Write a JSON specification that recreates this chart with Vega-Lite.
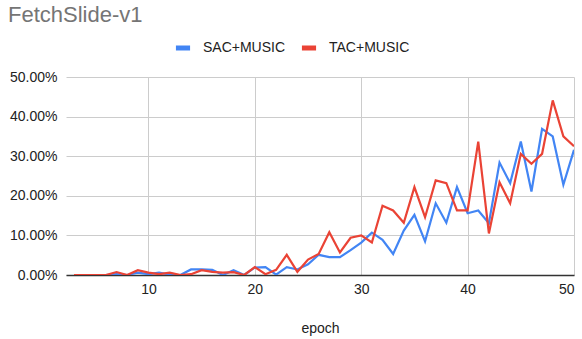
{
  "$schema": "https://vega.github.io/schema/vega-lite/v6.json",
  "width": 508,
  "height": 198,
  "autosize": {"type": "none"},
  "padding": {"left": 66, "top": 77, "right": 8, "bottom": 64},
  "background": "white",
  "title": {"text": "FetchSlide-v1", "anchor": "start", "frame": "group", "dx": -58, "font": "Liberation Sans", "fontSize": 22, "fontWeight": "normal", "color": "#757575", "offset": 11},
  "config": {"view": {"stroke": null}, "font": "Liberation Sans"},
  "data": {"values": [
    {"epoch": 3, "series": "SAC+MUSIC", "value": 0.0},
    {"epoch": 4, "series": "SAC+MUSIC", "value": 0.0},
    {"epoch": 5, "series": "SAC+MUSIC", "value": 0.0},
    {"epoch": 6, "series": "SAC+MUSIC", "value": 0.0},
    {"epoch": 7, "series": "SAC+MUSIC", "value": 0.002},
    {"epoch": 8, "series": "SAC+MUSIC", "value": 0.0},
    {"epoch": 9, "series": "SAC+MUSIC", "value": 0.006},
    {"epoch": 10, "series": "SAC+MUSIC", "value": 0.002},
    {"epoch": 11, "series": "SAC+MUSIC", "value": 0.006},
    {"epoch": 12, "series": "SAC+MUSIC", "value": 0.001},
    {"epoch": 13, "series": "SAC+MUSIC", "value": 0.0},
    {"epoch": 14, "series": "SAC+MUSIC", "value": 0.014},
    {"epoch": 15, "series": "SAC+MUSIC", "value": 0.014},
    {"epoch": 16, "series": "SAC+MUSIC", "value": 0.013},
    {"epoch": 17, "series": "SAC+MUSIC", "value": 0.0},
    {"epoch": 18, "series": "SAC+MUSIC", "value": 0.012},
    {"epoch": 19, "series": "SAC+MUSIC", "value": 0.0},
    {"epoch": 20, "series": "SAC+MUSIC", "value": 0.019},
    {"epoch": 21, "series": "SAC+MUSIC", "value": 0.02},
    {"epoch": 22, "series": "SAC+MUSIC", "value": 0.001},
    {"epoch": 23, "series": "SAC+MUSIC", "value": 0.02},
    {"epoch": 24, "series": "SAC+MUSIC", "value": 0.014},
    {"epoch": 25, "series": "SAC+MUSIC", "value": 0.027},
    {"epoch": 26, "series": "SAC+MUSIC", "value": 0.051},
    {"epoch": 27, "series": "SAC+MUSIC", "value": 0.045},
    {"epoch": 28, "series": "SAC+MUSIC", "value": 0.045},
    {"epoch": 29, "series": "SAC+MUSIC", "value": 0.063},
    {"epoch": 30, "series": "SAC+MUSIC", "value": 0.082},
    {"epoch": 31, "series": "SAC+MUSIC", "value": 0.107},
    {"epoch": 32, "series": "SAC+MUSIC", "value": 0.089},
    {"epoch": 33, "series": "SAC+MUSIC", "value": 0.053},
    {"epoch": 34, "series": "SAC+MUSIC", "value": 0.112},
    {"epoch": 35, "series": "SAC+MUSIC", "value": 0.152},
    {"epoch": 36, "series": "SAC+MUSIC", "value": 0.085},
    {"epoch": 37, "series": "SAC+MUSIC", "value": 0.181},
    {"epoch": 38, "series": "SAC+MUSIC", "value": 0.132},
    {"epoch": 39, "series": "SAC+MUSIC", "value": 0.222},
    {"epoch": 40, "series": "SAC+MUSIC", "value": 0.156},
    {"epoch": 41, "series": "SAC+MUSIC", "value": 0.163},
    {"epoch": 42, "series": "SAC+MUSIC", "value": 0.131},
    {"epoch": 43, "series": "SAC+MUSIC", "value": 0.284},
    {"epoch": 44, "series": "SAC+MUSIC", "value": 0.232},
    {"epoch": 45, "series": "SAC+MUSIC", "value": 0.337},
    {"epoch": 46, "series": "SAC+MUSIC", "value": 0.211},
    {"epoch": 47, "series": "SAC+MUSIC", "value": 0.369},
    {"epoch": 48, "series": "SAC+MUSIC", "value": 0.35},
    {"epoch": 49, "series": "SAC+MUSIC", "value": 0.228},
    {"epoch": 50, "series": "SAC+MUSIC", "value": 0.316},
    {"epoch": 3, "series": "TAC+MUSIC", "value": 0.0},
    {"epoch": 4, "series": "TAC+MUSIC", "value": 0.0},
    {"epoch": 5, "series": "TAC+MUSIC", "value": 0.0},
    {"epoch": 6, "series": "TAC+MUSIC", "value": 0.0},
    {"epoch": 7, "series": "TAC+MUSIC", "value": 0.0075},
    {"epoch": 8, "series": "TAC+MUSIC", "value": 0.0},
    {"epoch": 9, "series": "TAC+MUSIC", "value": 0.012},
    {"epoch": 10, "series": "TAC+MUSIC", "value": 0.006},
    {"epoch": 11, "series": "TAC+MUSIC", "value": 0.002},
    {"epoch": 12, "series": "TAC+MUSIC", "value": 0.006},
    {"epoch": 13, "series": "TAC+MUSIC", "value": 0.0},
    {"epoch": 14, "series": "TAC+MUSIC", "value": 0.002},
    {"epoch": 15, "series": "TAC+MUSIC", "value": 0.012},
    {"epoch": 16, "series": "TAC+MUSIC", "value": 0.008},
    {"epoch": 17, "series": "TAC+MUSIC", "value": 0.006},
    {"epoch": 18, "series": "TAC+MUSIC", "value": 0.007},
    {"epoch": 19, "series": "TAC+MUSIC", "value": 0.0},
    {"epoch": 20, "series": "TAC+MUSIC", "value": 0.02},
    {"epoch": 21, "series": "TAC+MUSIC", "value": 0.002},
    {"epoch": 22, "series": "TAC+MUSIC", "value": 0.013},
    {"epoch": 23, "series": "TAC+MUSIC", "value": 0.051},
    {"epoch": 24, "series": "TAC+MUSIC", "value": 0.008},
    {"epoch": 25, "series": "TAC+MUSIC", "value": 0.039},
    {"epoch": 26, "series": "TAC+MUSIC", "value": 0.053},
    {"epoch": 27, "series": "TAC+MUSIC", "value": 0.108},
    {"epoch": 28, "series": "TAC+MUSIC", "value": 0.057},
    {"epoch": 29, "series": "TAC+MUSIC", "value": 0.094},
    {"epoch": 30, "series": "TAC+MUSIC", "value": 0.1},
    {"epoch": 31, "series": "TAC+MUSIC", "value": 0.082},
    {"epoch": 32, "series": "TAC+MUSIC", "value": 0.175},
    {"epoch": 33, "series": "TAC+MUSIC", "value": 0.163},
    {"epoch": 34, "series": "TAC+MUSIC", "value": 0.132},
    {"epoch": 35, "series": "TAC+MUSIC", "value": 0.222},
    {"epoch": 36, "series": "TAC+MUSIC", "value": 0.146},
    {"epoch": 37, "series": "TAC+MUSIC", "value": 0.239},
    {"epoch": 38, "series": "TAC+MUSIC", "value": 0.232},
    {"epoch": 39, "series": "TAC+MUSIC", "value": 0.163},
    {"epoch": 40, "series": "TAC+MUSIC", "value": 0.163},
    {"epoch": 41, "series": "TAC+MUSIC", "value": 0.337},
    {"epoch": 42, "series": "TAC+MUSIC", "value": 0.105},
    {"epoch": 43, "series": "TAC+MUSIC", "value": 0.234},
    {"epoch": 44, "series": "TAC+MUSIC", "value": 0.181},
    {"epoch": 45, "series": "TAC+MUSIC", "value": 0.306},
    {"epoch": 46, "series": "TAC+MUSIC", "value": 0.281},
    {"epoch": 47, "series": "TAC+MUSIC", "value": 0.306},
    {"epoch": 48, "series": "TAC+MUSIC", "value": 0.441},
    {"epoch": 49, "series": "TAC+MUSIC", "value": 0.35},
    {"epoch": 50, "series": "TAC+MUSIC", "value": 0.325}
  ]},
  "mark": {"type": "line", "strokeWidth": 2.2, "clip": true},
  "encoding": {
    "x": {
      "field": "epoch", "type": "quantitative",
      "scale": {"domain": [2.25, 50], "nice": false, "zero": false},
      "axis": {
        "values": [10, 20, 30, 40, 50], "title": "epoch", "titleFont": "Liberation Sans", "titleFontSize": 14, "titleFontWeight": "normal", "titleColor": "#222222", "titlePadding": 25,
        "labelFont": "Liberation Sans", "labelFontSize": 14, "labelColor": "#222222", "labelPadding": 7,
        "ticks": false, "domainColor": "#333333", "domainWidth": 1.5,
        "grid": true, "gridColor": "#cccccc", "gridWidth": 1
      }
    },
    "y": {
      "field": "value", "type": "quantitative",
      "scale": {"domain": [0, 0.5], "nice": false},
      "axis": {
        "values": [0, 0.1, 0.2, 0.3, 0.4, 0.5], "format": ".2%", "title": null,
        "labelFont": "Liberation Sans", "labelFontSize": 14, "labelColor": "#222222", "labelPadding": 9,
        "ticks": false, "domain": false,
        "grid": true, "gridColor": "#cccccc", "gridWidth": 1
      }
    },
    "color": {
      "field": "series", "type": "nominal",
      "scale": {"domain": ["SAC+MUSIC", "TAC+MUSIC"], "range": ["#4285F4", "#EA4335"]},
      "legend": {
        "title": null, "orient": "none", "direction": "horizontal", "legendX": 107, "legendY": -39,
        "labelFont": "Liberation Sans", "labelFontSize": 14, "labelColor": "#222222", "labelOffset": 10,
        "symbolType": "stroke", "symbolStrokeWidth": 5, "symbolSize": 200, "columnPadding": 5
      }
    }
  }
}
